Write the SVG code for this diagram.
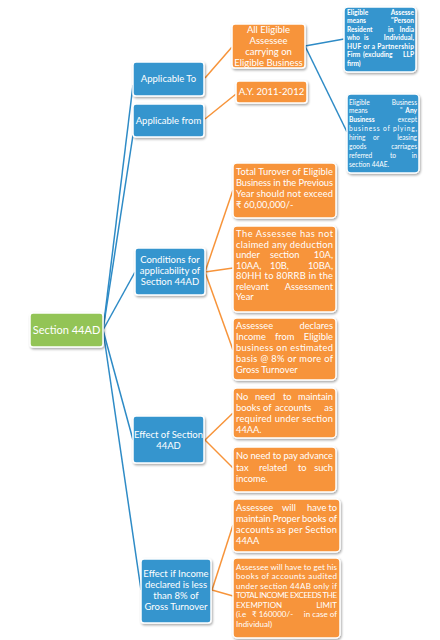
<svg xmlns="http://www.w3.org/2000/svg" width="440" height="640" viewBox="0 0 440 640">
<defs>
<filter id="sh" x="-10%" y="-10%" width="130%" height="130%">
<feDropShadow dx="1" dy="1.5" stdDeviation="1" flood-color="#000" flood-opacity="0.35"/>
</filter>
<style>
.b{fill:#3595CE;stroke:#fff;stroke-width:1.5;filter:url(#sh)}
.o{fill:#F7943A;stroke:#fff;stroke-width:1.5;filter:url(#sh)}
.g{fill:#93C457;stroke:#fff;stroke-width:1.5;filter:url(#sh)}
text{font-family:Lato,"Liberation Sans","DejaVu Sans",sans-serif;fill:#fff}
.c{text-anchor:middle;font-size:9.5px}
.t{font-size:9.3px}
.s{font-size:8px}
.m{font-size:6.6px;font-weight:bold}
.e{text-anchor:end}
.bl{stroke:#2E8BC6;stroke-width:1.5;fill:none}
.ol{stroke:#F7943A;stroke-width:1.5;fill:none}
</style>
</defs>
<rect width="440" height="640" fill="#fff"/>
<g id="connectors">
<line class="bl" x1="103" y1="330" x2="133" y2="85"/>
<line class="bl" x1="103" y1="330" x2="133" y2="135"/>
<line class="bl" x1="103" y1="330" x2="135" y2="272"/>
<line class="bl" x1="103" y1="330" x2="133" y2="440"/>
<line class="bl" x1="103" y1="330" x2="141" y2="590"/>
<line class="bl" x1="305" y1="46" x2="344" y2="39"/>
<line class="bl" x1="305" y1="46" x2="347" y2="132"/>
<line class="ol" x1="205" y1="78" x2="232" y2="47"/>
<line class="ol" x1="205" y1="119" x2="236" y2="94"/>
<line class="ol" x1="205" y1="272" x2="233" y2="190"/>
<line class="ol" x1="205" y1="272" x2="233" y2="268"/>
<line class="ol" x1="205" y1="272" x2="233" y2="350"/>
<line class="ol" x1="205" y1="440" x2="233" y2="413"/>
<line class="ol" x1="205" y1="440" x2="233" y2="468"/>
<line class="ol" x1="212" y1="590" x2="233" y2="525"/>
<line class="ol" x1="212" y1="590" x2="233" y2="596"/>
</g>
<g id="section44ad">
<rect class="g" x="30" y="313" width="73" height="34" rx="3"/>
<text class="c" x="66.5" y="334" style="font-size:11px">Section 44AD</text>
</g>
<g id="applicableTo">
<rect class="b" x="133" y="62" width="71" height="34" rx="3"/>
<text class="c" x="168.5" y="82">Applicable To</text>
</g>
<g id="applicableFrom">
<rect class="b" x="133" y="104" width="71" height="33" rx="3"/>
<text class="c" x="168.5" y="123.5">Applicable from</text>
</g>
<g id="conditions">
<rect class="b" x="135" y="248" width="70" height="47" rx="3"/>
<text class="c" x="170" y="263">Conditions for</text>
<text class="c" x="170" y="274">applicability of</text>
<text class="c" x="170" y="285">Section 44AD</text>
</g>
<g id="effect">
<rect class="b" x="133" y="416" width="71" height="47" rx="3"/>
<text class="c" x="168.5" y="437.5">Effect of Section</text>
<text class="c" x="168.5" y="448.5">44AD</text>
</g>
<g id="effectLess">
<rect class="b" x="141" y="559" width="70" height="64" rx="3"/>
<text class="c" x="176" y="577">Effect if Income</text>
<text class="c" x="176" y="588">declared  is less</text>
<text class="c" x="176" y="599">than 8% of</text>
<text class="c" x="176" y="610">Gross Turnover</text>
</g>
<g id="allEligible">
<rect class="o" x="232" y="24" width="73" height="44" rx="3"/>
<text class="c" x="268.5" y="33">All Eligible</text>
<text class="c" x="268.5" y="44">Assessee</text>
<text class="c" x="268.5" y="55">carrying on</text>
<text class="c" x="268.5" y="66">Eligible Business</text>
</g>
<g id="ay">
<rect class="o" x="236" y="81" width="71" height="22" rx="3"/>
<text class="c" x="271.5" y="95">A.Y. 2011-2012</text>
</g>
<g id="eligibleAssesse">
<rect class="b" x="344" y="7" width="72" height="65" rx="4"/>
<g class="m">
<text y="14.5"><tspan x="347">Eligible</tspan><tspan x="414" class="e">Assesse</tspan></text>
<text y="23"><tspan x="347">means</tspan><tspan x="414" class="e">"Person</tspan></text>
<text y="31.5"><tspan x="347">Resident</tspan><tspan x="388">in</tspan><tspan x="414" class="e">India</tspan></text>
<text y="40"><tspan x="347">who</tspan><tspan x="364">is</tspan><tspan x="414" class="e">Individual,</tspan></text>
<text x="347" y="48.5" textLength="67" lengthAdjust="spacing">HUF or a Partnership</text>
<text y="57"><tspan x="347">Firm</tspan><tspan x="363">(excluding</tspan><tspan x="414" class="e">LLP</tspan></text>
<text x="347" y="65.5">firm)</text>
</g>
</g>
<g id="eligibleBusiness">
<rect class="b" x="347" y="94" width="72" height="79" rx="4"/>
<g class="m" style="font-weight:normal">
<text y="104.5"><tspan x="349">Eligible</tspan><tspan x="417" class="e">Business</tspan></text>
<text y="113"><tspan x="349">means</tspan><tspan x="400">"</tspan><tspan x="417" class="e" font-weight="bold">Any</tspan></text>
<text y="122"><tspan x="349" font-weight="bold">Business</tspan><tspan x="417" class="e">except</tspan></text>
<text x="349" y="131" textLength="68" lengthAdjust="spacing">business of plying,</text>
<text y="139.5"><tspan x="349">hiring</tspan><tspan x="373">or</tspan><tspan x="417" class="e">leasing</tspan></text>
<text y="148.5"><tspan x="349">goods</tspan><tspan x="417" class="e">carriages</tspan></text>
<text y="157.5"><tspan x="349">referred</tspan><tspan x="390">to</tspan><tspan x="417" class="e">in</tspan></text>
<text x="349" y="166.5">section 44AE.</text>
</g>
</g>
<g id="turnover">
<rect class="o" x="233" y="163" width="103" height="55" rx="4"/>
<g class="t">
<text x="236" y="175" textLength="97" lengthAdjust="spacing">Total Turover of Eligible</text>
<text x="236" y="186" textLength="97" lengthAdjust="spacing">Business in the Previous</text>
<text x="236" y="197" textLength="97" lengthAdjust="spacing">Year should not exceed</text>
<text x="236" y="208">₹ 60,00,000/-</text>
</g>
</g>
<g id="deduction">
<rect class="o" x="233" y="226" width="103" height="86" rx="4"/>
<g class="t">
<text x="236" y="237" textLength="97" lengthAdjust="spacing">The Assessee has not</text>
<text x="236" y="247.5" textLength="97" lengthAdjust="spacing">claimed any deduction</text>
<text y="258"><tspan x="236">under</tspan><tspan x="270">section</tspan><tspan x="333" class="e">10A,</tspan></text>
<text y="268.5"><tspan x="236">10AA,</tspan><tspan x="270">10B,</tspan><tspan x="333" class="e">10BA,</tspan></text>
<text x="236" y="279" textLength="97" lengthAdjust="spacing">80HH to 80RRB in the</text>
<text y="289.5"><tspan x="236">relevant</tspan><tspan x="333" class="e">Assessment</tspan></text>
<text x="236" y="300">Year</text>
</g>
</g>
<g id="declares">
<rect class="o" x="233" y="318" width="103" height="62" rx="4"/>
<g class="t">
<text y="329"><tspan x="236">Assessee</tspan><tspan x="333" class="e">declares</tspan></text>
<text y="340"><tspan x="236">Income</tspan><tspan x="275">from</tspan><tspan x="333" class="e">Eligible</tspan></text>
<text x="236" y="351" textLength="97" lengthAdjust="spacing">business on estimated</text>
<text x="236" y="362" textLength="97" lengthAdjust="spacing">basis @ 8% or more of</text>
<text x="236" y="373">Gross Turnover</text>
</g>
</g>
<g id="noBooks">
<rect class="o" x="233" y="388" width="103" height="50" rx="4"/>
<g class="t">
<text y="399.5"><tspan x="236">No</tspan><tspan x="255">need</tspan><tspan x="283">to</tspan><tspan x="333" class="e">maintain</tspan></text>
<text y="410.5"><tspan x="236">books</tspan><tspan x="263">of</tspan><tspan x="275">accounts</tspan><tspan x="333" class="e">as</tspan></text>
<text x="236" y="421.5" textLength="97" lengthAdjust="spacing">required under section</text>
<text x="236" y="432.5">44AA.</text>
</g>
</g>
<g id="noAdvance">
<rect class="o" x="233" y="447" width="103" height="45" rx="4"/>
<g class="t">
<text x="236" y="459" textLength="97" lengthAdjust="spacing">No need to pay advance</text>
<text y="470.5"><tspan x="236">tax</tspan><tspan x="259">related</tspan><tspan x="298">to</tspan><tspan x="333" class="e">such</tspan></text>
<text x="236" y="482">income.</text>
</g>
</g>
<g id="properBooks">
<rect class="o" x="233" y="499" width="107" height="53" rx="4"/>
<g class="t">
<text y="510.5"><tspan x="236">Assessee</tspan><tspan x="282">will</tspan><tspan x="307">have</tspan><tspan x="337" class="e">to</tspan></text>
<text x="236" y="521.5" textLength="101" lengthAdjust="spacing">maintain Proper books of</text>
<text x="236" y="532.5" textLength="101" lengthAdjust="spacing">accounts as per Section</text>
<text x="236" y="543.5">44AA</text>
</g>
</g>
<g id="audited">
<rect class="o" x="233" y="558" width="107" height="80" rx="4"/>
<g class="s">
<text x="236" y="569.5" textLength="101" lengthAdjust="spacing">Assessee will have to get his</text>
<text x="236" y="579" textLength="101" lengthAdjust="spacing">books of accounts audited</text>
<text x="236" y="588.5" textLength="101" lengthAdjust="spacing">under section 44AB  only if</text>
<text x="236" y="598" textLength="101" lengthAdjust="spacing">TOTAL INCOME EXCEEDS THE</text>
<text y="607.5"><tspan x="236">EXEMPTION</tspan><tspan x="337" class="e">LIMIT</tspan></text>
<text y="617"><tspan x="236">(i.e</tspan><tspan x="252">₹ 160000/-</tspan><tspan x="337" class="e">in case of</tspan></text>
<text x="236" y="626.5">Individual)</text>
</g>
</g>
</svg>
